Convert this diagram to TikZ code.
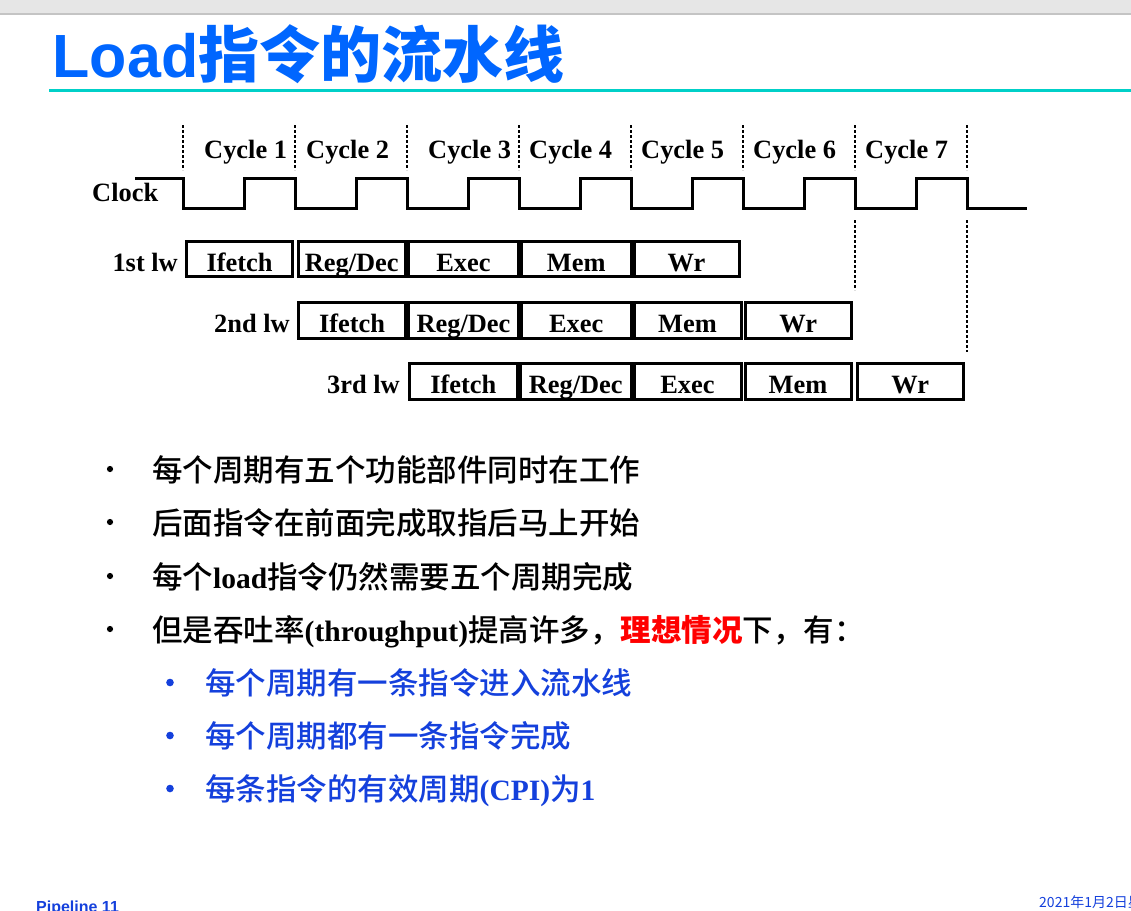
\documentclass[tikz,border=0pt]{standalone}
\usepackage{fontspec}
\setmainfont{Liberation Serif}
\newfontfamily\arialf{Liberation Sans}
\newfontfamily\cjkf{Noto Sans CJK SC}
\IfFontExistsTF{Noto Sans CJK SC Medium}
  {\newfontfamily\cjkm{Noto Sans CJK SC Medium}}
  {\newfontfamily\cjkm{Noto Sans CJK SC}[FakeBold=1.2]}

\definecolor{titleblue}{HTML}{0066FF}
\definecolor{subblue}{HTML}{1440DC}
\definecolor{rulecyan}{HTML}{00D0C8}
\definecolor{barfill}{HTML}{E6E6E6}
\definecolor{barline}{HTML}{C4C4C4}

% Latin words inside the Chinese bullet lines
\newcommand\latinb[1]{{\rmfamily\bfseries\fontsize{29.5}{30}\selectfont #1}}
% one pipeline stage box: name, left, right, row centre, row height, label
\newcommand\stagebox[6]{%
  \node[stage, minimum width={#3-#2}, minimum height=#5] (#1) at ({(#2+#3)/2},#4) {#6};}

\tikzset{
  wave/.style={line width=3pt, line join=miter},
  tick/.style={line width=2.6pt, dash pattern=on 2.6pt off 2.4pt},
  stage/.style={draw, line width=3pt, inner sep=0pt, text height=24pt, text depth=0pt,
    font=\rmfamily\bfseries\fontsize{26.4}{27}\selectfont},
  diag/.style={inner sep=0pt, font=\rmfamily\bfseries\fontsize{26.4}{27}\selectfont},
  item/.style={anchor=base west, inner sep=0pt, font=\cjkm\fontsize{30.5}{31}\selectfont},
}

\begin{document}
\begin{tikzpicture}[x=1pt, y=-1pt]
\useasboundingbox (0,0) rectangle (1131,910);

% window strip and title
\fill[barfill] (0,0) rectangle (1131,13.5);
\draw[barline, line width=1.2pt] (0,14) -- (1131,14);
\node[anchor=base west, inner sep=0pt, text=titleblue] (title) at (52.5,77)
  {\fontsize{61}{61}\selectfont\arialf\bfseries Load\cjkf\bfseries 指令的流水线};
\draw[rulecyan, line width=3pt] (49,90.5) -- (1131,90.5);

% clock waveform
\draw[wave] (135,178)
  foreach \k in {0,...,6} { -- ({183+112*\k},178) -- ({183+112*\k},208)
                            -- ({244+112*\k},208) -- ({244+112*\k},178) }
  -- (967,178) -- (967,208) -- (1027,208);

% cycle boundaries
\foreach \k in {0,...,7} \draw[tick] ({183+112*\k},125) -- ({183+112*\k},170);
\draw[tick] (855,220) -- (855,290);
\draw[tick] (967,220) -- (967,352);

% cycle and clock labels
\node[diag, anchor=base west] (clk) at (92,201) {Clock};
\foreach \x/\n in {204/1, 306/2, 428/3, 529/4, 641/5, 753/6, 865/7}
  \node[diag, anchor=base west] (cyc\n) at (\x,158) {Cycle \n};

% instruction labels
\node[diag, anchor=base east] (lw1) at (178,271) {1st lw};
\node[diag, anchor=base east] (lw2) at (290,332) {2nd lw};
\node[diag, anchor=base east] (lw3) at (400,393) {3rd lw};

% first load
\stagebox{a1}{186.5}{292.5}{259}{35}{Ifetch}
\stagebox{a2}{298}{405.5}{259}{35}{Reg/Dec}
\stagebox{a3}{408.5}{518.5}{259}{35}{Exec}
\stagebox{a4}{521.5}{631}{259}{35}{Mem}
\stagebox{a5}{634}{739}{259}{35}{Wr}
% second load
\stagebox{b1}{298.5}{405.5}{320.5}{36}{Ifetch}
\stagebox{b2}{408.5}{518.5}{320.5}{36}{Reg/Dec}
\stagebox{b3}{521.5}{631}{320.5}{36}{Exec}
\stagebox{b4}{634}{741}{320.5}{36}{Mem}
\stagebox{b5}{745}{851.5}{320.5}{36}{Wr}
% third load
\stagebox{c1}{409.5}{517}{381.5}{36}{Ifetch}
\stagebox{c2}{520.5}{631}{381.5}{36}{Reg/Dec}
\stagebox{c3}{634}{741}{381.5}{36}{Exec}
\stagebox{c4}{745}{851}{381.5}{36}{Mem}
\stagebox{c5}{857}{963.5}{381.5}{36}{Wr}

% bullet list
\foreach \y in {469,522,576,629} \fill (110,\y) circle (3.1pt);
\foreach \y in {682.5,735.5,788.5} \fill[subblue] (170,\y) circle (3.8pt);

\node[item] (t1) at (152,481) {每个周期有五个功能部件同时在工作};
\node[item] (t2) at (152,534) {后面指令在前面完成取指后马上开始};
\node[item] (t3) at (152,588) {每个\latinb{load}指令仍然需要五个周期完成};
\node[item] (t4) at (152,641)
  {但是吞吐率\latinb{(throughput)}提高许多，\textcolor{red}{\cjkf\bfseries 理想情况}下，有：};
\node[item, text=subblue] (t5) at (205,694.5) {每个周期有一条指令进入流水线};
\node[item, text=subblue] (t6) at (205,747.5) {每个周期都有一条指令完成};
\node[item, text=subblue] (t7) at (205,800.5) {每条指令的有效周期\latinb{(CPI)}为\latinb{1}};

% footer
\node[anchor=base west, inner sep=0pt, text=subblue] (foot) at (36,912)
  {\arialf\bfseries\fontsize{16}{16}\selectfont Pipeline 11};
\node[anchor=base west, inner sep=0pt, text=subblue] (date) at (1039,907)
  {\cjkf\fontsize{14}{14}\selectfont 2021年1月2日星};
\end{tikzpicture}
\end{document}
